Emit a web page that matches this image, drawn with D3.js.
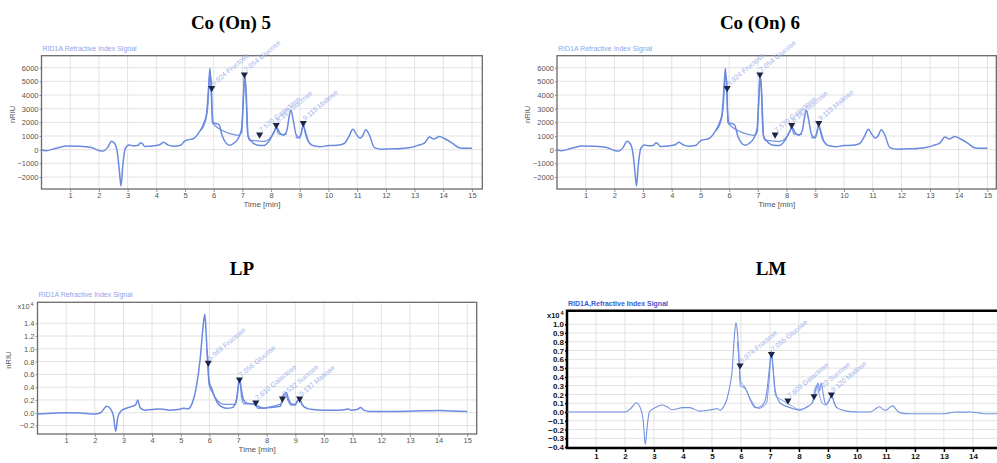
<!DOCTYPE html>
<html>
<head>
<meta charset="utf-8">
<script src="https://cdn.jsdelivr.net/npm/d3@7"></script>
<style>
  body { margin: 0; background: #fff; }
  svg { display: block; }
</style>
</head>
<body>
<div id="chart"></div>
<script>
// chromatogram traces, [time (min), signal]
var coSignal = [[0,0],[0.15,-80],[0.5,100],[0.9,270],[1.3,250],[1.7,180],[2.0,-60],[2.15,-100],[2.3,150],[2.44,620],[2.55,450],
  [2.65,-300],[2.72,-1700],[2.77,-2650],[2.83,-1200],[2.92,100],[3.05,350],[3.2,280],[3.35,300],[3.45,500],[3.52,420],[3.6,230],
  [3.75,250],[4.0,300],[4.15,400],[4.25,550],[4.4,350],[4.6,250],[4.85,330],[5.0,650],[5.1,720],[5.3,820],[5.5,1300],[5.65,1900],
  [5.75,2600],[5.82,4500],[5.87,5950],[5.9,4800],[5.95,2600],[6.0,1950],[6.1,1900],[6.18,1850],[6.3,1000],[6.42,520],[6.55,320],
  [6.7,470],[6.85,800],[6.97,1500],[7.03,3500],[7.08,5400],[7.13,4300],[7.2,1000],[7.3,650],[7.5,350],[7.75,300],[7.95,700],
  [8.1,1300],[8.2,1600],[8.3,1250],[8.42,1050],[8.55,1400],[8.62,2300],[8.69,2900],[8.77,2200],[8.87,1100],[8.97,900],[9.05,1200],
  [9.12,1750],[9.2,1300],[9.3,600],[9.45,300],[9.7,220],[10.0,300],[10.3,320],[10.55,450],[10.72,1000],[10.85,1500],[10.98,1100],
  [11.1,830],[11.2,1050],[11.3,1450],[11.42,1100],[11.6,150],[11.85,30],[12.3,60],[12.8,150],[13.1,300],[13.35,500],[13.52,920],
  [13.68,780],[13.87,970],[14.05,800],[14.3,500],[14.55,150],[14.8,100],[15.0,100]];
var coOverlay = [[5.55,1400],[5.7,2000],[5.8,3300],[5.86,5500],[5.9,5300],[5.93,4500],[5.95,2000],[6.05,1750],[6.3,1400],
  [6.6,1150],[6.85,1050],[6.98,1300],[7.03,3600],[7.07,5500],[7.11,4800],[7.18,1200],[7.25,700],[7.5,650],[7.75,600],[7.95,800],
  [8.1,1250],[8.18,1700],[8.25,1150],[8.45,1100],[8.55,1150],null,[8.85,900],[9.0,850],[9.08,1500],[9.12,1900],[9.18,1300],
  [9.25,800],[9.4,400]];
var coPeaks = [[5.93,4500],[7.07,5500],[7.6,1100],[8.18,1800],[9.12,1950]];
var coPeakLabels = ["5.924 Fructose","7.054 Glucose","7.570 Galactose","8.167 Sucrose","9.119 Maltose"];

var lpSignal = [[0,-0.02],[0.5,-0.01],[1.0,0.0],[1.5,-0.005],[2.0,-0.02],[2.2,0.0],[2.42,0.1],[2.55,0.06],[2.65,-0.05],
  [2.73,-0.29],[2.8,-0.08],[2.9,0.02],[3.1,0.07],[3.3,0.1],[3.43,0.13],[3.5,0.2],[3.58,0.08],[3.75,0.04],[4.0,0.05],[4.3,0.06],
  [4.6,0.04],[4.9,0.05],[5.1,0.07],[5.25,0.06],[5.4,0.15],[5.55,0.42],[5.68,0.85],[5.78,1.35],[5.84,1.54],[5.88,1.3],[5.93,0.85],
  [5.99,0.5],[6.08,0.38],[6.18,0.25],[6.3,0.14],[6.45,0.09],[6.6,0.07],[6.8,0.08],[6.93,0.18],[7.0,0.38],[7.05,0.53],[7.1,0.4],
  [7.18,0.22],[7.3,0.15],[7.5,0.14],[7.7,0.1],[7.9,0.07],[8.1,0.08],[8.3,0.09],[8.48,0.1],[8.55,0.24],[8.62,0.29],[8.68,0.32],
  [8.76,0.22],[8.85,0.14],[8.98,0.13],[9.08,0.19],[9.14,0.21],[9.22,0.14],[9.35,0.08],[9.6,0.05],[10.0,0.04],[10.5,0.04],
  [10.75,0.05],[10.85,0.06],[10.95,0.04],[11.15,0.05],[11.28,0.08],[11.4,0.04],[11.6,0.02],[12.5,0.02],[13.5,0.03],[14.0,0.035],
  [14.5,0.025],[15.0,0.02]];
var lpOverlay = [[5.9,1.0],[5.95,0.8],[5.98,0.45],[6.1,0.32],[6.3,0.18],[6.5,0.13],[6.9,0.13],[6.97,0.25],[7.03,0.5],[7.07,0.5],
  [7.12,0.25],[7.2,0.14],[7.55,0.14],[7.7,0.07],[8.0,0.08],[8.45,0.13],[8.52,0.14],[8.56,0.25],[8.64,0.3],[8.74,0.2],[8.85,0.12],
  [9.0,0.12],[9.1,0.2],[9.16,0.2],[9.25,0.12],[9.4,0.07]];
var lpPeaks = [[5.96,0.78],[7.05,0.52],[7.62,0.16],[8.55,0.22],[9.15,0.22]];
var lpPeakLabels = ["5.969 Fructose","7.056 Glucose","7.610 Galactose","8.532 Sucrose","9.137 Maltose"];

var lmSignal = [[0,0.0],[1.0,0.0],[2.0,0.0],[2.2,0.04],[2.39,0.106],[2.55,0.03],[2.63,-0.1],[2.7,-0.37],[2.77,-0.15],[2.84,0.0],
  [3.05,0.05],[3.28,0.08],[3.45,0.06],[3.62,0.025],[4.0,0.05],[4.23,0.05],[4.57,0.01],[4.85,0.02],[5.06,0.03],[5.17,0.04],
  [5.28,0.02],[5.4,0.06],[5.51,0.14],[5.62,0.3],[5.69,0.45],[5.77,0.85],[5.83,1.02],[5.88,0.9],[5.92,0.71],[5.98,0.3],[6.15,0.27],
  [6.32,0.14],[6.49,0.05],[6.67,0.06],[6.82,0.12],[6.9,0.25],[6.98,0.5],[7.05,0.7],[7.1,0.55],[7.18,0.25],[7.36,0.1],[7.7,0.05],
  [8.05,0.02],[8.28,0.06],[8.45,0.1],[8.51,0.15],[8.6,0.28],[8.66,0.33],[8.71,0.24],[8.77,0.33],[8.84,0.2],[8.92,0.09],[9.03,0.12],
  [9.13,0.19],[9.2,0.12],[9.3,0.05],[9.65,0.01],[10.1,0.0],[10.45,0.0],[10.62,0.03],[10.77,0.06],[10.9,0.03],[11.0,0.02],
  [11.12,0.05],[11.24,0.07],[11.35,0.03],[11.5,-0.01],[11.8,-0.02],[12.18,-0.02],[12.98,-0.02],[13.2,-0.01],[13.44,0.0],
  [13.65,-0.003],[13.9,0.0],[14.2,-0.01],[14.47,-0.02],[14.8,-0.02],[15.3,-0.02]];
var lmOverlay = [[5.88,0.8],[5.94,0.55],[5.99,0.35],[6.1,0.3],[6.25,0.2],[6.45,0.08],[6.6,0.04],[6.88,0.1],[6.98,0.4],[7.05,0.66],
  [7.1,0.5],[7.2,0.18],[7.4,0.14],[7.7,0.08],[8.0,0.03],[8.3,0.06],[8.48,0.12],[8.54,0.25],[8.62,0.3],[8.7,0.2],[8.8,0.1],
  [8.95,0.08],[9.08,0.17],[9.13,0.2],[9.2,0.12],[9.35,0.04]];
var lmPeaks = [[5.97,0.53],[7.05,0.66],[7.62,0.13],[8.52,0.18],[9.12,0.2]];
var lmPeakLabels = ["5.974 Fructose","7.055 Glucose","7.609 Galactose","8.522 Sucrose","9.120 Maltose"];

var timeTicks = [1,2,3,4,5,6,7,8,9,10,11,12,13,14,15];
var coTicks = [-2000,-1000,0,1000,2000,3000,4000,5000,6000];
var lpTicks = [-0.2,0,0.2,0.4,0.6,0.8,1.0,1.2,1.4];
var lmTicks = [-0.4,-0.3,-0.2,-0.1,0,0.1,0.2,0.3,0.4,0.5,0.6,0.7,0.8,0.9,1.0];

var svg = d3.select("#chart").append("svg").attr("width", 997).attr("height", 463);

// titles above the panels
var titles = [["Co (On) 5", 231, 29], ["Co (On) 6", 760, 29], ["LP", 242, 275], ["LM", 771, 275]];
titles.forEach(function(t){
    svg.append("text").attr("x", t[1]).attr("y", t[2]).attr("text-anchor", "middle")
        .style("font-family", "'Liberation Serif', serif").style("font-weight", "bold").style("font-size", "19px")
        .text(t[0]);
});

function drawPanel(p){
    var x = d3.scaleLinear().domain(p.xDomain).range([p.left, p.right]);
    var y = d3.scaleLinear().domain(p.yDomain).range([p.bottom, p.top]);
    var g = svg.append("g");
    var clipId = "clip" + p.id;
    g.append("clipPath").attr("id", clipId).append("rect")
        .attr("x", p.left).attr("y", p.top).attr("width", p.right - p.left).attr("height", p.bottom - p.top);

    //ticks that fit in the window
    var xt = timeTicks.filter(function(d){ return x(d) < Math.min(p.right, 990); });

    //grid
    g.selectAll(".vg").data(xt).enter().append("line")
        .attr("x1", d => x(d)).attr("x2", d => x(d)).attr("y1", p.top).attr("y2", p.bottom)
        .attr("stroke", "#e2e2e2").attr("stroke-width", 1);
    g.selectAll(".hg").data(p.yTicks).enter().append("line")
        .attr("x1", p.left).attr("x2", p.right).attr("y1", d => y(d)).attr("y2", d => y(d))
        .attr("stroke", "#e2e2e2").attr("stroke-width", 1);

    //axes
    var xAxis = d3.axisBottom(x).tickValues(xt).tickSize(p.heavy ? 4 : 3).tickFormat(d3.format("d"));
    var yAxis = d3.axisLeft(y).tickValues(p.yTicks).tickSize(2).tickFormat(p.fmt);
    var xa = g.append("g").attr("transform", `translate(0,${p.bottom})`).call(xAxis);
    var ya = g.append("g").attr("transform", `translate(${p.left},0)`).call(yAxis);
    [xa, ya].forEach(function(a){
        a.select(".domain").remove();
        a.selectAll("line").attr("stroke", p.heavy ? "#000" : "#999").attr("stroke-width", p.heavy ? 1.5 : 1);
        a.selectAll("text").style("font-family", "'Liberation Sans', Arial, sans-serif")
            .style("font-size", p.heavy ? "8px" : "7.5px").style("font-weight", p.heavy ? "bold" : "normal")
            .attr("fill", p.heavy ? "#111" : "#555");
    });
    ya.selectAll("text").attr("x", -3);
    xa.selectAll("text").attr("y", p.heavy ? 5 : 4);

    //frame
    if(p.heavy){
        g.append("path").attr("d", `M${p.right},${p.top}H${p.left}V${p.bottom}H${p.right}`)
            .attr("fill", "none").attr("stroke", "#000").attr("stroke-width", 2.5);
    } else {
        g.append("rect").attr("x", p.left).attr("y", p.top).attr("width", p.right - p.left).attr("height", p.bottom - p.top)
            .attr("fill", "none").attr("stroke", "#6a6a6a").attr("stroke-width", 1.3);
    }

    //signal lines
    var line = d3.line().defined(d => d !== null).x(d => x(d[0])).y(d => y(d[1])).curve(d3.curveMonotoneX);
    var traces = g.append("g").attr("clip-path", `url(#${clipId})`);
    traces.append("path").datum(p.overlay).attr("d", line).attr("fill", "none")
        .attr("stroke", p.color).attr("stroke-width", p.heavy ? 1 : 1.3).attr("opacity", 0.9);
    traces.append("path").datum(p.signal).attr("d", line).attr("fill", "none")
        .attr("stroke", p.color).attr("stroke-width", p.heavy ? 1.1 : 1.5);

    //peak markers and labels
    g.selectAll(".mk").data(p.peaks).enter().append("path")
        .attr("d", d3.symbol(d3.symbolTriangle, 22))
        .attr("transform", d => `translate(${x(d[0])},${y(d[1])}) rotate(180)`)
        .attr("fill", "#1d2546");
    g.selectAll(".pl").data(p.peaks).enter().append("text")
        .attr("transform", d => `translate(${x(d[0]) + 2},${y(d[1]) - 2}) rotate(-40)`)
        .style("font-family", "'Liberation Sans', Arial, sans-serif").style("font-size", "7px")
        .attr("fill", "#9fb2ec")
        .text((d, i) => p.labels[i]);

    //texts
    g.append("text").attr("x", p.left + 1).attr("y", p.top - 5)
        .style("font-family", "'Liberation Sans', Arial, sans-serif").style("font-size", "7px")
        .style("font-weight", p.heavy ? "bold" : "normal")
        .attr("fill", p.heavy ? "#3a5bd0" : "#8ea5e8").text(p.signalName);
    g.append("text").attr("x", p.heavy ? 785 : (p.left + p.right) / 2).attr("y", p.bottom + (p.heavy ? 21 : 18))
        .attr("text-anchor", "middle").style("font-family", "'Liberation Sans', Arial, sans-serif").style("font-size", "8px")
        .style("font-weight", p.heavy ? "bold" : "normal").attr("fill", p.heavy ? "#111" : "#555").text("Time [min]");
    if(p.yLabel){
        g.append("text").attr("transform", `translate(${p.left - 27},${(p.top + p.bottom) / 2 - 8}) rotate(-90)`)
            .attr("text-anchor", "middle").style("font-family", "'Liberation Sans', Arial, sans-serif").style("font-size", "7.5px")
            .attr("fill", "#555").text(p.yLabel);
    }
    if(p.exp){
        var e = g.append("text").attr("x", p.left - 20).attr("y", p.top + 7)
            .style("font-family", "'Liberation Sans', Arial, sans-serif").style("font-size", "7.5px")
            .style("font-weight", p.heavy ? "bold" : "normal").attr("fill", p.heavy ? "#111" : "#555");
        e.append("tspan").text("x10");
        e.append("tspan").attr("dy", -3).attr("dx", 1).style("font-size", "5.5px").text("4");
    }
}

drawPanel({id: 1, left: 41.5, right: 482.3, top: 55.7, bottom: 189, xDomain: [0, 15.36], yDomain: [-2875, 6875],
    yTicks: coTicks, fmt: d3.format("d"), signal: coSignal, overlay: coOverlay, peaks: coPeaks, labels: coPeakLabels,
    color: "#6a8ae0", signalName: "RID1A Refractive Index Signal", yLabel: "nRIU"});
drawPanel({id: 2, left: 557, right: 996.3, top: 55.7, bottom: 189, xDomain: [0, 15.31], yDomain: [-2875, 6875],
    yTicks: coTicks, fmt: d3.format("d"), signal: coSignal, overlay: coOverlay, peaks: coPeaks, labels: coPeakLabels,
    color: "#6a8ae0", signalName: "RID1A Refractive Index Signal", yLabel: "nRIU"});
drawPanel({id: 3, left: 37.5, right: 476.7, top: 302.3, bottom: 434, xDomain: [0, 15.33], yDomain: [-0.333, 1.728],
    yTicks: lpTicks, fmt: d3.format(".1f"), signal: lpSignal, overlay: lpOverlay, peaks: lpPeaks, labels: lpPeakLabels,
    color: "#6a8ae0", signalName: "RID1A Refractive Index Signal", yLabel: "nRIU", exp: true});
drawPanel({id: 4, left: 567, right: 1010, top: 310.7, bottom: 448, xDomain: [0, 15.28], yDomain: [-0.41, 1.154],
    yTicks: lmTicks, fmt: d3.format(".1f"), signal: lmSignal, overlay: lmOverlay, peaks: lmPeaks, labels: lmPeakLabels,
    color: "#7090e0", signalName: "RID1A,Refractive Index Signal", exp: true, heavy: true});
</script>
</body>
</html>
